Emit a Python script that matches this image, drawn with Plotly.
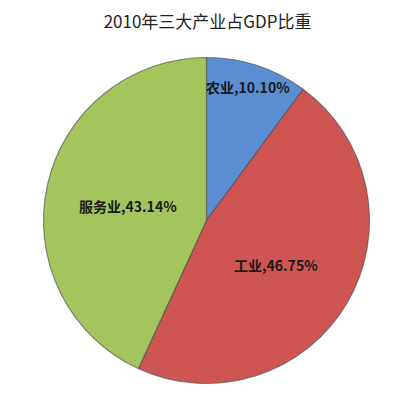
import plotly.graph_objects as go

categories = ["农业", "工业", "服务业"]
values = [10.10, 46.75, 43.14]
colors = ["#5B8DD3", "#CF5552", "#A4C45E"]
label_pos = [(0.601, 0.8025), (0.67, 0.3575), (0.30, 0.505)]

fig = go.Figure()
fig.add_trace(go.Pie(
    labels=categories,
    values=values,
    sort=False,
    direction="clockwise",
    rotation=0,
    marker=dict(colors=colors, line=dict(color="rgba(70,70,70,0.6)", width=1.2)),
    textinfo="none",
    hoverinfo="label+percent",
    showlegend=False,
    domain=dict(x=[0.08875, 0.90375], y=[0.06125, 0.87625]),
))

for c, v, (px, py) in zip(categories, values, label_pos):
    fig.add_annotation(
        x=px, y=py, xref="paper", yref="paper", xanchor="center", yanchor="middle",
        text=f"<b>{c},{v:.2f}%</b>", showarrow=False,
        font=dict(family="Noto Sans CJK SC", size=14, color="#1a1a1a"),
    )

fig.update_layout(
    width=400, height=400,
    margin=dict(l=0, r=0, t=0, b=0),
    paper_bgcolor="white",
    title=dict(text="2010年三大产业占GDP比重", x=0.499, xanchor="center", y=0.965, yanchor="middle",
               font=dict(family="Noto Sans CJK SC", size=17, color="#222222")),
)

fig.write_html("out.html")
